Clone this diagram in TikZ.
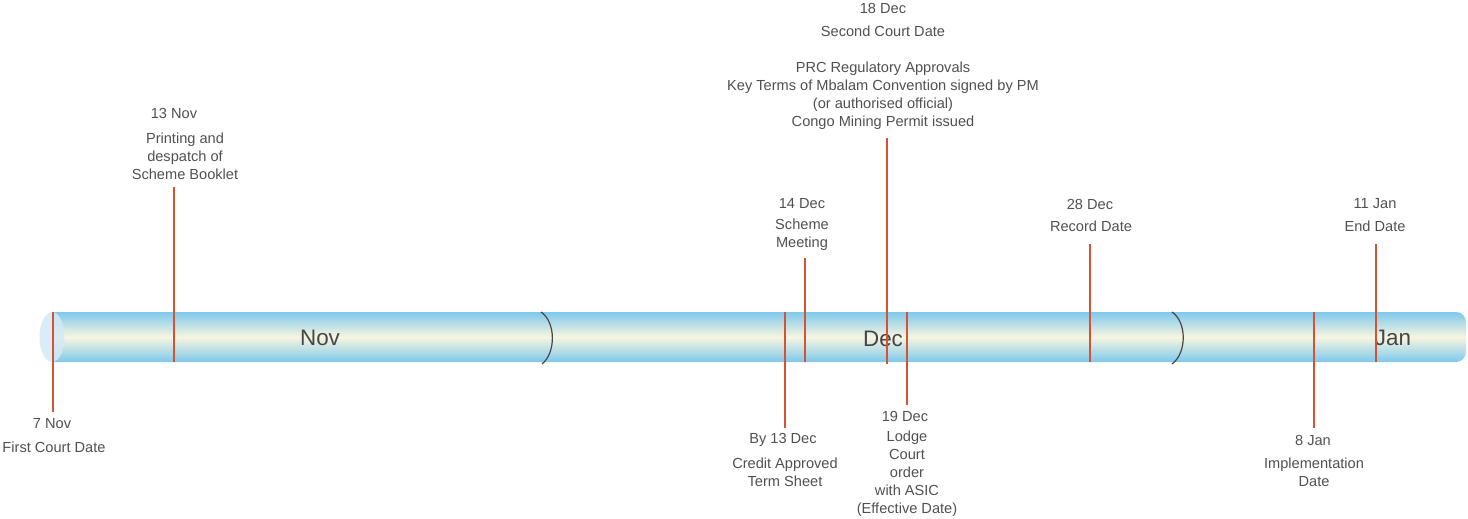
\documentclass[tikz,border=0pt]{standalone}
\usepackage{fontspec}
\setmainfont{Liberation Sans}
\definecolor{tubeblue}{RGB}{126,200,236}
\definecolor{tubecream}{RGB}{248,246,224}
\definecolor{capblue}{RGB}{212,233,246}
\definecolor{markred}{RGB}{214,82,52}
\definecolor{labelgray}{RGB}{80,80,80}
\definecolor{monthgray}{RGB}{70,70,70}
\definecolor{seamgray}{RGB}{70,70,70}
\tikzset{
  evtext/.style={font=\fontsize{7.3}{9}\selectfont, text=labelgray, inner sep=0pt, align=center},
  monthtext/.style={font=\fontsize{11.2}{13}\selectfont, text=monthgray, inner sep=0pt},
  marker/.style={draw=markred, line width=0.75pt},
  heavymarker/.style={draw=markred, line width=1.25pt},
  seam/.style={draw=seamgray, line width=0.6pt},
}
\begin{document}
\begin{tikzpicture}[x=0.5pt, y=-0.5pt]
\useasboundingbox (0,0) rectangle (1468,519);

% the tube
\shade[top color=tubeblue, bottom color=tubeblue, middle color=tubecream, rounded corners=5pt]
  (52,312) -- (1466,312) -- (1466,362) -- (52,362);
\fill[capblue, opacity=0.85] (52,337) ellipse [x radius=12.5, y radius=25];

% month seams
\coordinate (s1t) at (541,312); \coordinate (s1b) at (542,364);
\coordinate (s2t) at (1172,312); \coordinate (s2b) at (1172,364);
\draw[seam] (s1t) .. controls (556,322) and (556,353) .. (s1b);
\draw[seam] (s2t) .. controls (1187,322) and (1187,353) .. (s2b);

% month names
\node[monthtext] (nov) at (320,338) {Nov};
\node[monthtext] (dec) at (883,339) {Dec};
\node[monthtext] (jan) at (1393,338) {Jan};

% marker end points
\coordinate (m7a) at (53,312);   \coordinate (m7b) at (53,412);
\coordinate (m13a) at (174,187); \coordinate (m13b) at (174,362);
\coordinate (mb13a) at (785,312); \coordinate (mb13b) at (785,428);
\coordinate (m14a) at (805,258); \coordinate (m14b) at (805,362);
\coordinate (m18a) at (887,138); \coordinate (m18b) at (887,364);
\coordinate (m19a) at (907,312); \coordinate (m19b) at (907,405);
\coordinate (m28a) at (1090,244); \coordinate (m28b) at (1090,362);
\coordinate (m8a) at (1314,312); \coordinate (m8b) at (1314,428);
\coordinate (m11a) at (1376,244); \coordinate (m11b) at (1376,362);

\draw[marker] (m7a) -- (m7b);
\draw[marker] (m13a) -- (m13b);
\draw[marker] (mb13a) -- (mb13b);
\draw[marker] (m14a) -- (m14b);
\draw[marker] (m18a) -- (m18b);
\draw[heavymarker] (m19a) -- (m19b);
\draw[marker] (m28a) -- (m28b);
\draw[marker] (m8a) -- (m8b);
\draw[marker] (m11a) -- (m11b);

% event labels
\node[evtext] (d7) at (52,424) {7 Nov};
\node[evtext] (t7) at (54,447) {First Court Date};

\node[evtext] (d13) at (174,113) {13 Nov};
\node[evtext, anchor=north] (t13) at (185,133) {Printing and\\despatch of\\Scheme Booklet};

\node[evtext] (d14) at (802,204) {14 Dec};
\node[evtext, anchor=north] (t14) at (802,219) {Scheme\\Meeting};

\node[evtext] (d18) at (883,8) {18 Dec};
\node[evtext] (t18) at (883,31) {Second Court Date};
\node[evtext, anchor=north] (x18) at (883,62) {PRC Regulatory Approvals\\Key Terms of Mbalam Convention signed by PM\\(or authorised official)\\Congo Mining Permit issued};

\node[evtext] (d28) at (1090,204) {28 Dec};
\node[evtext] (t28) at (1091,226) {Record Date};

\node[evtext] (d11) at (1375,204) {11 Jan};
\node[evtext] (t11) at (1375,226) {End Date};

\node[evtext] (db13) at (783,440) {By 13 Dec};
\node[evtext, anchor=north] (tb13) at (785,458) {Credit Approved\\Term Sheet};

\node[evtext] (d19) at (905,416) {19 Dec};
\node[evtext, anchor=north] (t19) at (907,431) {Lodge\\Court\\order\\with ASIC\\(Effective Date)};

\node[evtext] (d8) at (1313,440) {8 Jan};
\node[evtext, anchor=north] (t8) at (1314,458) {Implementation\\Date};
\end{tikzpicture}
\end{document}
